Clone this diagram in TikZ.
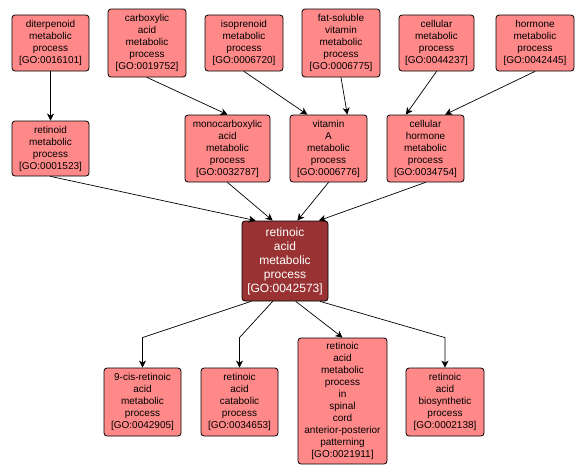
\documentclass[tikz,border=0pt]{standalone}
\usepackage{fontspec}
\setmainfont{Liberation Sans}
\usepackage{tikz}
\usetikzlibrary{arrows.meta}
\usepackage{xcolor}
\definecolor{termfill}{RGB}{255,137,137}
\definecolor{focusfill}{RGB}{153,51,51}

\begin{document}
\begin{tikzpicture}[x=1pt,y=-1pt,>={Stealth[length=7pt,width=7pt,inset=2pt]},line cap=round,
  term/.style={draw=black,line width=0.8pt,fill=termfill,rounded corners=3pt,align=center,inner sep=1pt,
    font=\fontsize{10}{12}\selectfont},
  focus/.style={term,fill=focusfill,text=white,font=\fontsize{12}{14}\selectfont},
  link/.style={->,line width=0.7pt}]
\useasboundingbox (0,0) rectangle (587,475);
\node[term,minimum width=77,minimum height=56] (dit) at (50.5,43) {diterpenoid\\metabolic\\process\\{[GO:0016101]}};
\node[term,minimum width=78,minimum height=68] (carb) at (147,43) {carboxylic\\acid\\metabolic\\process\\{[GO:0019752]}};
\node[term,minimum width=78,minimum height=56] (iso) at (244,43) {isoprenoid\\metabolic\\process\\{[GO:0006720]}};
\node[term,minimum width=78,minimum height=68] (fat) at (341,43) {fat-soluble\\vitamin\\metabolic\\process\\{[GO:0006775]}};
\node[term,minimum width=75,minimum height=56] (cell) at (436.5,43) {cellular\\metabolic\\process\\{[GO:0044237]}};
\node[term,minimum width=78,minimum height=56] (horm) at (535,43) {hormone\\metabolic\\process\\{[GO:0042445]}};
\node[term,minimum width=77,minimum height=55] (ret) at (50.5,148.5) {retinoid\\metabolic\\process\\{[GO:0001523]}};
\node[term,minimum width=85,minimum height=67] (mono) at (227.5,148.5) {monocarboxylic\\acid\\metabolic\\process\\{[GO:0032787]}};
\node[term,minimum width=77,minimum height=67] (vita) at (328.5,148.5) {vitamin\\A\\metabolic\\process\\{[GO:0006776]}};
\node[term,minimum width=77,minimum height=67] (chorm) at (425.5,148.5) {cellular\\hormone\\metabolic\\process\\{[GO:0034754]}};
\node[focus,minimum width=86,minimum height=80] (main) at (285,261) {retinoic\\acid\\metabolic\\process\\{[GO:0042573]}};
\node[term,minimum width=77,minimum height=68] (cis) at (142.5,402) {9-cis-retinoic\\acid\\metabolic\\process\\{[GO:0042905]}};
\node[term,minimum width=77,minimum height=68] (cat) at (239.5,402) {retinoic\\acid\\catabolic\\process\\{[GO:0034653]}};
\node[term,minimum width=89,minimum height=126] (spin) at (342.5,401) {retinoic\\acid\\metabolic\\process\\in\\spinal\\cord\\anterior-posterior\\patterning\\{[GO:0021911]}};
\node[term,minimum width=78,minimum height=68] (bio) at (445,402) {retinoic\\acid\\biosynthetic\\process\\{[GO:0002138]}};
\draw[link] (dit.south) -- (ret.north);
\draw[link] (carb.south) -- (mono.north);
\draw[link] (iso.south) -- (vita.122.7);
\draw[link] (fat.south) -- (vita.61);
\draw[link] (cell.south) -- (chorm.120);
\draw[link] (horm.south) -- (chorm.60);
\draw[link] (ret.south) -- (main.126.9);
\draw[link] (mono.south) -- (main.107.9);
\draw[link] (vita.south) -- (main.73.3);
\draw[link] (chorm.south) -- (main.50.5);
\draw[link] (main.230.5) -- ([yshift=30pt]cis.north) -- (cis.north);
\draw[link] (main.253.3) -- ([yshift=30pt]cat.north) -- (cat.north);
\draw[link] (main.285.4) -- (spin.north);
\draw[link] (main.311.2) -- ([yshift=30pt]bio.north) -- (bio.north);
\end{tikzpicture}
\end{document}
